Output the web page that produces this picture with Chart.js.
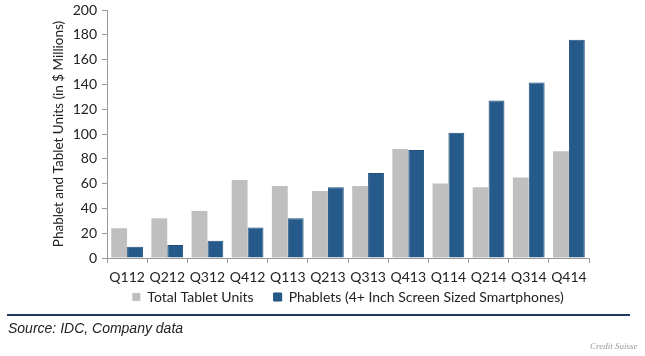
<!DOCTYPE html>
<html><head><meta charset="utf-8">
<script src="https://cdn.jsdelivr.net/npm/chart.js@4/dist/chart.umd.min.js"></script>
<style>
html,body{margin:0;padding:0;background:#fff;}
#wrap{position:relative;width:645px;height:356px;overflow:hidden;}
#c{position:absolute;left:0;top:0;}
#rule{position:absolute;left:7px;top:314px;width:623px;height:2px;background:#1f3864;}
#src{position:absolute;left:8px;top:320px;font:italic 14px "Liberation Sans",Arial,sans-serif;color:#222;}
#cs{position:absolute;left:590px;top:341px;font:italic 9px "Liberation Serif",serif;color:#999;}
</style></head>
<body><div id="wrap"><canvas id="c" width="645" height="332"></canvas>
<div id="rule"></div><div id="src">Source: IDC, Company data</div><div id="cs">Credit Suisse</div></div>
<script>
const categories = ["Q112","Q212","Q312","Q412","Q113","Q213","Q313","Q413","Q114","Q214","Q314","Q414"];
const tabletUnits = [24, 32, 38, 63, 58, 54, 58, 88, 60, 57, 65, 86];
const phabletUnits = [9, 10.5, 14, 24.5, 32, 57, 68.5, 87, 101, 127, 141.5, 176];
const seriesNames = ["Total Tablet Units", "Phablets (4+ Inch Screen Sized Smartphones)"];
const yTitle = "Phablet and Tablet Units (in $ Millions)";
const FONT = "Lato";
const legendLift = {
  id: 'legendLift',
  afterLayout(chart) { if (chart.legend) { chart.legend.top -= 18; chart.legend.bottom -= 18; } }
};
new Chart(document.getElementById('c'), {
  type: 'bar',
  data: {
    labels: categories,
    datasets: [
      {label: seriesNames[0], data: tabletUnits, backgroundColor: '#BFBFBF', borderWidth: 0},
      {label: seriesNames[1], data: phabletUnits, backgroundColor: '#255A8A', borderColor: '#1f4e7a', borderWidth: 1}
    ]
  },
  plugins: [legendLift],
  options: {
    responsive: false, animation: false,
    layout: {padding: {left: 51, right: 56, top: 0, bottom: 0}},
    datasets: {bar: {categoryPercentage: 0.79, barPercentage: 1}},
    plugins: {
      tooltip: {enabled: false},
      legend: {
        position: 'bottom', fullSize: false,
        labels: {boxWidth: 8, boxHeight: 8, padding: 20, color: '#222', font: {family: FONT, size: 14}}
      }
    },
    scales: {
      x: {
        grid: {display: true, drawOnChartArea: false, drawTicks: true, tickLength: 5, color: '#999', offset: true},
        border: {display: true, color: '#999'},
        ticks: {color: '#222', font: {family: FONT, size: 14}, padding: 6, maxRotation: 0, autoSkip: false},
        afterFit: s => { s.height = 30; }
      },
      y: {
        min: 0, max: 200,
        ticks: {stepSize: 20, color: '#222', font: {family: FONT, size: 14}, padding: 5},
        grid: {display: true, drawOnChartArea: false, drawTicks: true, tickLength: 5, color: '#999'},
        border: {display: true, color: '#999'},
        title: {display: true, text: yTitle, color: '#222', font: {family: FONT, size: 13.5}, padding: 0},
        afterFit: s => { s.width = 56; s.paddingTop = 10; s.paddingBottom = 0; }
      }
    }
  }
});
</script></body></html>
